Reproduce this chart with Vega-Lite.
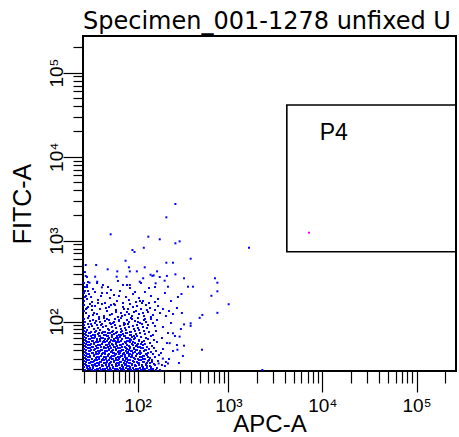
{"$schema":"https://vega.github.io/schema/vega-lite/v6.json","width":373,"height":335,"autosize":{"type":"none"},"padding":{"left":83,"top":36,"right":3,"bottom":66},"background":"white",
"title":{"text":"Specimen_001-1278 unfixed U","anchor":"start","frame":"group","font":"DejaVu Sans","fontSize":24,"fontWeight":"normal","color":"black","baseline":"bottom","offset":1,"dy":23},
"datasets":{
"gates":[{"gate":"P4","x1":4200,"x2":262143,"y1":735,"y2":41200,"lx":9400,"ly":18900}],
"events":[
{"x":7220,"y":1242,"g":"P4"},
{"x":267,"y":2737},{"x":212,"y":1898},{"x":47,"y":1189},{"x":133,"y":1113},{"x":179,"y":1036},{"x":267,"y":928},{"x":297,"y":979},{"x":118,"y":820},{"x":87,"y":770},{"x":92,"y":729},{"x":1661,"y":820},{"x":392,"y":605},{"x":72,"y":572},{"x":212,"y":541},{"x":251,"y":541},{"x":21,"y":508},{"x":30,"y":508},{"x":79,"y":476},{"x":121,"y":476},{"x":43,"y":450},{"x":57,"y":425},{"x":81,"y":425},{"x":98,"y":425},{"x":167,"y":425},{"x":141,"y":387},{"x":153,"y":380},{"x":267,"y":391},{"x":215,"y":374},{"x":21,"y":374},{"x":29,"y":366},{"x":56,"y":366},{"x":74,"y":366},{"x":116,"y":350},{"x":148,"y":374},{"x":179,"y":363},{"x":332,"y":350},{"x":718,"y":350},{"x":762,"y":309},{"x":203,"y":327},{"x":24,"y":309},{"x":31,"y":318},{"x":36,"y":271},{"x":67,"y":290},{"x":81,"y":290},{"x":106,"y":318},{"x":161,"y":304},{"x":221,"y":276},{"x":367,"y":276},{"x":415,"y":276},{"x":762,"y":242},{"x":657,"y":213},{"x":1008,"y":167},{"x":762,"y":130},{"x":311,"y":224},{"x":491,"y":112},{"x":525,"y":122},{"x":392,"y":95},{"x":392,"y":88},{"x":332,"y":92},{"x":520,"y":41},{"x":281,"y":41},{"x":332,"y":47},{"x":297,"y":63},{"x":231,"y":51},{"x":251,"y":70},{"x":194,"y":30},{"x":174,"y":25},{"x":221,"y":25},{"x":2307,"y":19.3},
{"x":22.8,"y":315},{"x":37.2,"y":289.5},{"x":58.1,"y":324.6},{"x":81.3,"y":266},{"x":109.5,"y":306.4},{"x":158.2,"y":273.5},{"x":27,"y":258.5},{"x":47.4,"y":251.2},
{"x":20.4,"y":244.3},{"x":23.6,"y":224},{"x":28.9,"y":237.2},{"x":35,"y":211.6},{"x":42.1,"y":230.5},{"x":51.8,"y":217.9},{"x":61.5,"y":244.3},{"x":72.8,"y":205.6},{"x":88.3,"y":224},{"x":103.8,"y":199.8},{"x":121.7,"y":237.2},{"x":142.5,"y":211.6},{"x":171,"y":194.3},{"x":204.6,"y":230.5},{"x":238.5,"y":183.3},{"x":22,"y":194.3},{"x":26.1,"y":178.1},{"x":31.8,"y":188.7},{"x":39.6,"y":173.1},{"x":46,"y":199.8},{"x":56.5,"y":183.3},{"x":67,"y":173.1},{"x":79.1,"y":188.7},{"x":95.8,"y":178.1},{"x":115.5,"y":183.3},{"x":135.3,"y":173.1},{"x":158.2,"y":178.1},{"x":284.7,"y":205.6},
{"x":19.7,"y":163.3},{"x":22,"y":149.6},{"x":24.4,"y":168.1},{"x":21.2,"y":129.3},{"x":23.6,"y":118.3},{"x":26.1,"y":141.2},{"x":28.9,"y":158.6},{"x":30.8,"y":125.5},{"x":33.9,"y":145.4},{"x":36.1,"y":168.1},{"x":38.4,"y":118.3},{"x":42.1,"y":137.1},{"x":44.7,"y":154.1},{"x":48.8,"y":125.5},{"x":51.8,"y":168.1},{"x":54.9,"y":141.2},{"x":58.1,"y":114.9},{"x":63.3,"y":129.3},{"x":67,"y":154.1},{"x":70.8,"y":121.9},{"x":77,"y":145.4},{"x":81.3,"y":168.1},{"x":85.9,"y":118.3},{"x":90.7,"y":133.2},{"x":98.4,"y":158.6},{"x":103.8,"y":125.5},{"x":109.5,"y":145.4},{"x":118.6,"y":118.3},{"x":125,"y":163.3},{"x":131.7,"y":133.2},{"x":138.9,"y":149.6},{"x":150.1,"y":121.9},{"x":158.2,"y":141.2},{"x":171,"y":158.6},{"x":180,"y":129.3},{"x":194.4,"y":145.4},{"x":209.9,"y":118.3},{"x":226.8,"y":137.1},{"x":251,"y":125.5},{"x":277.6,"y":149.6},{"x":314.6,"y":129.3},{"x":27,"y":121.9},{"x":47.4,"y":163.3},{"x":74.9,"y":133.2},{"x":112.5,"y":173.1},
{"x":19.7,"y":183.3},{"x":21.2,"y":211.6},{"x":20.4,"y":273.5},{"x":22.8,"y":244.3},{"x":19.7,"y":306.4},{"x":22,"y":363.4},{"x":20.4,"y":417},{"x":19.7,"y":137.1},{"x":22.8,"y":154.1},{"x":20.4,"y":205.6},{"x":22,"y":289.5},{"x":19.7,"y":230.5},
{"x":25.3,"y":93.1},{"x":29.9,"y":101.9},{"x":35,"y":90.3},{"x":42.1,"y":108.2},{"x":50.3,"y":96},{"x":59.8,"y":105},{"x":70.8,"y":93.1},{"x":83.6,"y":111.5},{"x":101,"y":98.9},{"x":121.7,"y":108.2},{"x":150.1,"y":96},{"x":28,"y":129.3},{"x":32.9,"y":114.9},{"x":46,"y":121.9},{"x":54.9,"y":133.2},{"x":65.1,"y":118.3},{"x":79.1,"y":125.5},{"x":95.8,"y":137.1},{"x":115.5,"y":129.3},{"x":142.5,"y":114.9},{"x":166.6,"y":105},{"x":21.2,"y":145.4},{"x":26.1,"y":158.6},{"x":31.8,"y":173.1},{"x":40.8,"y":149.6},{"x":53.3,"y":163.3},{"x":68.9,"y":145.4},{"x":88.3,"y":154.1},{"x":106.6,"y":183.3},{"x":128.3,"y":141.2},{"x":25.3,"y":205.6},{"x":36.1,"y":230.5},{"x":59.8,"y":211.6},{"x":93.2,"y":237.2},{"x":22,"y":273.5},{"x":30.8,"y":306.4},{"x":43.4,"y":273.5},{"x":74.9,"y":289.5},{"x":135.3,"y":266},
{"x":204.6,"y":22.7},{"x":226.8,"y":29.6},{"x":251,"y":39.3},{"x":215.4,"y":51.3},{"x":264,"y":64.2},{"x":194.4,"y":85},{"x":238.5,"y":96},{"x":292,"y":25.5},{"x":184.7,"y":36.6},{"x":221,"y":70.6},{"x":277.6,"y":48},{"x":322.6,"y":33},{"x":306.9,"y":79.9},{"x":189.5,"y":60.3},{"x":209.9,"y":26.5},
{"x":20.4,"y":19.3},{"x":22.8,"y":20.1},{"x":26.1,"y":19.3},{"x":28.9,"y":19.3},{"x":31.8,"y":20.1},{"x":35,"y":19.3},{"x":39.6,"y":20.1},{"x":43.4,"y":19.3},{"x":47.4,"y":19.3},{"x":53.3,"y":20.1},{"x":58.1,"y":19.3},{"x":63.3,"y":20.1},{"x":68.9,"y":19.3},{"x":77,"y":20.1},{"x":83.6,"y":19.3},{"x":90.7,"y":19.3},{"x":101,"y":20.1},{"x":109.5,"y":19.3},{"x":121.7,"y":20.1},{"x":135.3,"y":19.3},{"x":150.1,"y":20.1},{"x":162.3,"y":19.3},{"x":180,"y":19.3},
{"x":19.7,"y":21.8},{"x":22,"y":22.7},{"x":24.4,"y":20.9},{"x":27,"y":21.8},{"x":30.8,"y":22.7},{"x":33.9,"y":20.9},{"x":37.2,"y":22.7},{"x":42.1,"y":21.8},{"x":46,"y":20.9},{"x":50.3,"y":21.8},{"x":56.5,"y":22.7},{"x":61.5,"y":20.9},{"x":67,"y":21.8},{"x":74.9,"y":22.7},{"x":81.3,"y":21.8},{"x":88.3,"y":20.9},{"x":95.8,"y":22.7},{"x":106.6,"y":20.9},{"x":115.5,"y":21.8},{"x":128.3,"y":22.7},{"x":142.5,"y":21.8},{"x":166.6,"y":20.9},
{"x":20.4,"y":24.5},{"x":23.6,"y":25.5},{"x":26.1,"y":23.6},{"x":28.9,"y":24.5},{"x":32.9,"y":25.5},{"x":36.1,"y":23.6},{"x":40.8,"y":25.5},{"x":44.7,"y":24.5},{"x":48.8,"y":23.6},{"x":54.9,"y":24.5},{"x":59.8,"y":25.5},{"x":65.1,"y":23.6},{"x":72.8,"y":24.5},{"x":79.1,"y":25.5},{"x":85.9,"y":24.5},{"x":93.2,"y":23.6},{"x":103.8,"y":25.5},{"x":112.5,"y":23.6},{"x":125,"y":24.5},{"x":138.9,"y":25.5},{"x":154.1,"y":24.5},{"x":189.5,"y":23.6},
{"x":19.7,"y":27.5},{"x":22,"y":28.5},{"x":25.3,"y":26.5},{"x":28,"y":27.5},{"x":30.8,"y":28.5},{"x":35,"y":26.5},{"x":38.4,"y":28.5},{"x":42.1,"y":27.5},{"x":47.4,"y":26.5},{"x":51.8,"y":27.5},{"x":58.1,"y":28.5},{"x":63.3,"y":26.5},{"x":70.8,"y":27.5},{"x":77,"y":28.5},{"x":88.3,"y":27.5},{"x":98.4,"y":26.5},{"x":109.5,"y":28.5},{"x":118.6,"y":26.5},{"x":131.7,"y":27.5},{"x":146.3,"y":28.5},{"x":171,"y":27.5},
{"x":20.4,"y":30.7},{"x":22.8,"y":31.8},{"x":26.1,"y":29.6},{"x":29.9,"y":30.7},{"x":32.9,"y":31.8},{"x":37.2,"y":29.6},{"x":40.8,"y":31.8},{"x":46,"y":30.7},{"x":50.3,"y":29.6},{"x":54.9,"y":30.7},{"x":61.5,"y":31.8},{"x":67,"y":29.6},{"x":74.9,"y":30.7},{"x":83.6,"y":31.8},{"x":90.7,"y":30.7},{"x":101,"y":29.6},{"x":112.5,"y":31.8},{"x":121.7,"y":29.6},{"x":138.9,"y":30.7},{"x":158.2,"y":31.8},
{"x":19.7,"y":34.1},{"x":22,"y":35.4},{"x":24.4,"y":33},{"x":28,"y":34.1},{"x":31.8,"y":35.4},{"x":35,"y":33},{"x":39.6,"y":35.4},{"x":43.4,"y":34.1},{"x":48.8,"y":33},{"x":53.3,"y":34.1},{"x":59.8,"y":35.4},{"x":65.1,"y":33},{"x":70.8,"y":34.1},{"x":79.1,"y":35.4},{"x":85.9,"y":34.1},{"x":95.8,"y":33},{"x":106.6,"y":35.4},{"x":115.5,"y":33},{"x":128.3,"y":34.1},{"x":150.1,"y":35.4},{"x":175.4,"y":34.1},
{"x":20.4,"y":37.9},{"x":23.6,"y":39.3},{"x":27,"y":36.6},{"x":29.9,"y":37.9},{"x":33.9,"y":39.3},{"x":37.2,"y":36.6},{"x":42.1,"y":39.3},{"x":47.4,"y":37.9},{"x":51.8,"y":36.6},{"x":58.1,"y":37.9},{"x":63.3,"y":39.3},{"x":68.9,"y":36.6},{"x":77,"y":37.9},{"x":83.6,"y":39.3},{"x":93.2,"y":37.9},{"x":103.8,"y":36.6},{"x":118.6,"y":39.3},{"x":131.7,"y":36.6},{"x":142.5,"y":37.9},{"x":162.3,"y":39.3},
{"x":19.7,"y":42},{"x":22.8,"y":43.5},{"x":25.3,"y":40.6},{"x":28.9,"y":42},{"x":31.8,"y":43.5},{"x":36.1,"y":40.6},{"x":40.8,"y":43.5},{"x":44.7,"y":42},{"x":50.3,"y":40.6},{"x":54.9,"y":42},{"x":61.5,"y":43.5},{"x":67,"y":40.6},{"x":74.9,"y":42},{"x":81.3,"y":43.5},{"x":90.7,"y":42},{"x":98.4,"y":40.6},{"x":109.5,"y":43.5},{"x":125,"y":40.6},{"x":135.3,"y":42},{"x":154.1,"y":43.5},{"x":194.4,"y":42},
{"x":20.4,"y":46.5},{"x":22.8,"y":48},{"x":26.1,"y":44.9},{"x":29.9,"y":46.5},{"x":33.9,"y":48},{"x":38.4,"y":44.9},{"x":42.1,"y":48},{"x":46,"y":46.5},{"x":51.8,"y":44.9},{"x":56.5,"y":46.5},{"x":63.3,"y":48},{"x":70.8,"y":44.9},{"x":79.1,"y":46.5},{"x":88.3,"y":48},{"x":95.8,"y":46.5},{"x":106.6,"y":44.9},{"x":115.5,"y":48},{"x":128.3,"y":44.9},{"x":146.3,"y":46.5},
{"x":19.7,"y":51.3},{"x":22,"y":53},{"x":25.3,"y":49.7},{"x":28,"y":51.3},{"x":31.8,"y":53},{"x":36.1,"y":49.7},{"x":39.6,"y":53},{"x":44.7,"y":51.3},{"x":48.8,"y":49.7},{"x":54.9,"y":51.3},{"x":59.8,"y":53},{"x":67,"y":49.7},{"x":72.8,"y":51.3},{"x":81.3,"y":53},{"x":93.2,"y":51.3},{"x":101,"y":49.7},{"x":112.5,"y":53},{"x":121.7,"y":49.7},{"x":138.9,"y":51.3},{"x":166.6,"y":53},
{"x":20.4,"y":56.6},{"x":23.6,"y":58.4},{"x":27,"y":54.8},{"x":30.8,"y":56.6},{"x":33.9,"y":58.4},{"x":38.4,"y":54.8},{"x":43.4,"y":58.4},{"x":47.4,"y":56.6},{"x":53.3,"y":54.8},{"x":58.1,"y":56.6},{"x":65.1,"y":58.4},{"x":74.9,"y":54.8},{"x":83.6,"y":56.6},{"x":90.7,"y":58.4},{"x":103.8,"y":56.6},{"x":118.6,"y":54.8},{"x":131.7,"y":58.4},{"x":154.1,"y":56.6},
{"x":19.7,"y":62.2},{"x":22.8,"y":64.2},{"x":26.1,"y":60.3},{"x":28.9,"y":62.2},{"x":32.9,"y":64.2},{"x":37.2,"y":60.3},{"x":42.1,"y":64.2},{"x":48.8,"y":62.2},{"x":54.9,"y":60.3},{"x":61.5,"y":62.2},{"x":68.9,"y":64.2},{"x":77,"y":60.3},{"x":85.9,"y":62.2},{"x":98.4,"y":64.2},{"x":109.5,"y":62.2},{"x":125,"y":60.3},{"x":142.5,"y":64.2},
{"x":20.4,"y":68.4},{"x":23.6,"y":70.6},{"x":27,"y":66.3},{"x":31.8,"y":68.4},{"x":36.1,"y":70.6},{"x":40.8,"y":66.3},{"x":46,"y":70.6},{"x":51.8,"y":68.4},{"x":59.8,"y":66.3},{"x":67,"y":68.4},{"x":74.9,"y":70.6},{"x":83.6,"y":66.3},{"x":95.8,"y":68.4},{"x":106.6,"y":70.6},{"x":121.7,"y":68.4},{"x":150.1,"y":66.3},
{"x":19.7,"y":75.1},{"x":22,"y":77.5},{"x":25.3,"y":72.8},{"x":29.9,"y":75.1},{"x":33.9,"y":77.5},{"x":39.6,"y":72.8},{"x":44.7,"y":77.5},{"x":50.3,"y":75.1},{"x":56.5,"y":72.8},{"x":65.1,"y":75.1},{"x":72.8,"y":77.5},{"x":81.3,"y":72.8},{"x":93.2,"y":75.1},{"x":103.8,"y":77.5},{"x":118.6,"y":75.1},{"x":135.3,"y":72.8},{"x":162.3,"y":75.1},
{"x":20.4,"y":82.4},{"x":23.6,"y":85},{"x":28,"y":79.9},{"x":31.8,"y":82.4},{"x":37.2,"y":85},{"x":43.4,"y":79.9},{"x":48.8,"y":85},{"x":54.9,"y":82.4},{"x":63.3,"y":79.9},{"x":70.8,"y":82.4},{"x":79.1,"y":85},{"x":90.7,"y":79.9},{"x":101,"y":82.4},{"x":115.5,"y":85},{"x":128.3,"y":82.4},
{"x":19.7,"y":90.3},{"x":22.8,"y":93.1},{"x":26.1,"y":87.6},{"x":30.8,"y":90.3},{"x":36.1,"y":93.1},{"x":40.8,"y":87.6},{"x":47.4,"y":93.1},{"x":53.3,"y":90.3},{"x":61.5,"y":87.6},{"x":68.9,"y":90.3},{"x":77,"y":93.1},{"x":88.3,"y":87.6},{"x":98.4,"y":90.3},{"x":112.5,"y":93.1},{"x":131.7,"y":90.3},{"x":158.2,"y":87.6},
{"x":20.4,"y":98.9},{"x":24.4,"y":101.9},{"x":28.9,"y":96},{"x":33.9,"y":98.9},{"x":39.6,"y":101.9},{"x":46,"y":96},{"x":51.8,"y":98.9},{"x":59.8,"y":101.9},{"x":68.9,"y":96},{"x":79.1,"y":98.9},{"x":93.2,"y":101.9},{"x":106.6,"y":96},{"x":125,"y":98.9},
{"x":19.7,"y":108.2},{"x":22.8,"y":111.5},{"x":27,"y":105},{"x":32.9,"y":108.2},{"x":38.4,"y":111.5},{"x":44.7,"y":105},{"x":53.3,"y":108.2},{"x":63.3,"y":111.5},{"x":74.9,"y":105},{"x":85.9,"y":108.2},{"x":101,"y":111.5},{"x":118.6,"y":105},{"x":142.5,"y":108.2},
{"x":22,"y":20.9},{"x":24.4,"y":20.1},{"x":27,"y":20.9},{"x":30.8,"y":20.1},{"x":33.9,"y":20.9},{"x":37.2,"y":20.1},{"x":42.1,"y":20.9},{"x":46,"y":20.1},{"x":50.3,"y":20.9},{"x":56.5,"y":20.1},{"x":61.5,"y":20.9},{"x":67,"y":20.1},{"x":72.8,"y":20.9},{"x":81.3,"y":20.1},{"x":88.3,"y":20.9},{"x":95.8,"y":20.1},{"x":106.6,"y":20.9},{"x":115.5,"y":20.1},{"x":128.3,"y":20.9},{"x":142.5,"y":20.1},
{"x":21.2,"y":23.6},{"x":23.6,"y":22.7},{"x":28,"y":23.6},{"x":29.9,"y":22.7},{"x":32.9,"y":23.6},{"x":36.1,"y":22.7},{"x":40.8,"y":23.6},{"x":44.7,"y":22.7},{"x":48.8,"y":23.6},{"x":54.9,"y":22.7},{"x":59.8,"y":23.6},{"x":65.1,"y":22.7},{"x":70.8,"y":23.6},{"x":79.1,"y":22.7},{"x":85.9,"y":23.6},{"x":93.2,"y":22.7},{"x":103.8,"y":23.6},{"x":112.5,"y":22.7},{"x":125,"y":23.6},{"x":138.9,"y":22.7},{"x":158.2,"y":23.6},
{"x":21.2,"y":26.5},{"x":24.4,"y":25.5},{"x":27,"y":26.5},{"x":30.8,"y":25.5},{"x":33.9,"y":26.5},{"x":38.4,"y":25.5},{"x":42.1,"y":26.5},{"x":46,"y":25.5},{"x":51.8,"y":26.5},{"x":56.5,"y":25.5},{"x":61.5,"y":26.5},{"x":68.9,"y":25.5},{"x":74.9,"y":26.5},{"x":81.3,"y":25.5},{"x":90.7,"y":26.5},{"x":101,"y":25.5},{"x":115.5,"y":26.5},{"x":128.3,"y":25.5},{"x":146.3,"y":26.5},
{"x":21.2,"y":29.6},{"x":23.6,"y":28.5},{"x":26.1,"y":29.6},{"x":28.9,"y":28.5},{"x":32.9,"y":29.6},{"x":36.1,"y":28.5},{"x":40.8,"y":29.6},{"x":44.7,"y":28.5},{"x":48.8,"y":29.6},{"x":54.9,"y":28.5},{"x":59.8,"y":29.6},{"x":67,"y":28.5},{"x":72.8,"y":29.6},{"x":81.3,"y":28.5},{"x":93.2,"y":29.6},{"x":103.8,"y":28.5},{"x":115.5,"y":29.6},{"x":135.3,"y":28.5},
{"x":21.2,"y":33},{"x":24.4,"y":31.8},{"x":28,"y":33},{"x":30.8,"y":31.8},{"x":35,"y":33},{"x":38.4,"y":31.8},{"x":43.4,"y":33},{"x":47.4,"y":31.8},{"x":51.8,"y":33},{"x":58.1,"y":31.8},{"x":63.3,"y":33},{"x":70.8,"y":31.8},{"x":79.1,"y":33},{"x":85.9,"y":31.8},{"x":95.8,"y":33},{"x":106.6,"y":31.8},{"x":118.6,"y":33},{"x":131.7,"y":31.8},
{"x":21.2,"y":36.6},{"x":23.6,"y":35.4},{"x":26.1,"y":36.6},{"x":29.9,"y":35.4},{"x":32.9,"y":36.6},{"x":36.1,"y":35.4},{"x":39.6,"y":36.6},{"x":44.7,"y":35.4},{"x":50.3,"y":36.6},{"x":54.9,"y":35.4},{"x":61.5,"y":36.6},{"x":67,"y":35.4},{"x":74.9,"y":36.6},{"x":81.3,"y":35.4},{"x":88.3,"y":36.6},{"x":98.4,"y":35.4},{"x":109.5,"y":36.6},{"x":125,"y":35.4},
{"x":21.2,"y":40.6},{"x":24.4,"y":39.3},{"x":28,"y":40.6},{"x":31.8,"y":39.3},{"x":35,"y":40.6},{"x":39.6,"y":39.3},{"x":44.7,"y":40.6},{"x":48.8,"y":39.3},{"x":54.9,"y":40.6},{"x":59.8,"y":39.3},{"x":65.1,"y":40.6},{"x":72.8,"y":39.3},{"x":79.1,"y":40.6},{"x":85.9,"y":39.3},{"x":95.8,"y":40.6},{"x":106.6,"y":39.3},{"x":121.7,"y":40.6},
{"x":21.2,"y":44.9},{"x":24.4,"y":43.5},{"x":27,"y":44.9},{"x":30.8,"y":43.5},{"x":35,"y":44.9},{"x":38.4,"y":43.5},{"x":43.4,"y":44.9},{"x":47.4,"y":43.5},{"x":53.3,"y":44.9},{"x":58.1,"y":43.5},{"x":65.1,"y":44.9},{"x":72.8,"y":43.5},{"x":81.3,"y":44.9},{"x":90.7,"y":43.5},{"x":101,"y":44.9},{"x":115.5,"y":43.5},
{"x":21.2,"y":49.7},{"x":24.4,"y":48},{"x":28,"y":49.7},{"x":31.8,"y":48},{"x":36.1,"y":49.7},{"x":40.8,"y":48},{"x":44.7,"y":49.7},{"x":50.3,"y":48},{"x":54.9,"y":49.7},{"x":61.5,"y":48},{"x":67,"y":49.7},{"x":74.9,"y":48},{"x":85.9,"y":49.7},{"x":98.4,"y":48},{"x":109.5,"y":49.7},
{"x":21.2,"y":54.8},{"x":23.6,"y":53},{"x":26.1,"y":54.8},{"x":29.9,"y":53},{"x":33.9,"y":54.8},{"x":37.2,"y":53},{"x":42.1,"y":54.8},{"x":46,"y":53},{"x":50.3,"y":54.8},{"x":56.5,"y":53},{"x":63.3,"y":54.8},{"x":70.8,"y":53},{"x":79.1,"y":54.8},{"x":88.3,"y":53},{"x":103.8,"y":54.8},
{"x":21.2,"y":60.3},{"x":24.4,"y":58.4},{"x":28,"y":60.3},{"x":30.8,"y":58.4},{"x":35,"y":60.3},{"x":39.6,"y":58.4},{"x":44.7,"y":60.3},{"x":51.8,"y":58.4},{"x":58.1,"y":60.3},{"x":65.1,"y":58.4},{"x":72.8,"y":60.3},{"x":81.3,"y":58.4},{"x":93.2,"y":60.3},
{"x":21.2,"y":66.3},{"x":25.3,"y":64.2},{"x":28.9,"y":66.3},{"x":33.9,"y":64.2},{"x":38.4,"y":66.3},{"x":43.4,"y":64.2},{"x":48.8,"y":66.3},{"x":56.5,"y":64.2},{"x":63.3,"y":66.3},{"x":70.8,"y":64.2},{"x":81.3,"y":66.3},{"x":90.7,"y":64.2},
{"x":21.2,"y":72.8},{"x":24.4,"y":70.6},{"x":28.9,"y":72.8},{"x":32.9,"y":70.6},{"x":37.2,"y":72.8},{"x":43.4,"y":70.6},{"x":48.8,"y":72.8},{"x":54.9,"y":70.6},{"x":63.3,"y":72.8},{"x":72.8,"y":70.6},{"x":83.6,"y":72.8}
]},
"layer":[
{"data":{"name":"events"},"mark":{"type":"square","size":4,"opacity":1,"strokeWidth":0,"clip":true},
"encoding":{
"x":{"field":"x","type":"quantitative","title":"APC-A","scale":{"type":"symlog","constant":10,"domain":[19,262143],"nice":false,"zero":false},
"axis":{"values":[20,30,40,50,60,70,80,90,100,200,300,400,500,600,700,800,900,1000,2000,3000,4000,5000,6000,7000,8000,9000,10000,20000,30000,40000,50000,60000,70000,80000,90000,100000,200000],"tickCount":200,
"labelExpr":"datum.value == 100 ? '10²' : datum.value == 1000 ? '10³' : datum.value == 10000 ? '10⁴' : datum.value == 100000 ? '10⁵' : ''",
"tickSize":{"condition":{"test":"datum.value == 100 || datum.value == 1000 || datum.value == 10000 || datum.value == 100000","value":21},"value":12},
"tickColor":"black","tickWidth":1.2,"domain":false,"grid":false,"labelOverlap":false,"labelFlush":false,"labelBound":false,
"labelFont":"Liberation Sans","labelFontSize":19,"labelColor":"black","labelBaseline":"alphabetic","labelPadding":19,
"titleFont":"Liberation Sans","titleFontSize":24,"titleFontWeight":"normal","titleColor":"black","titleBaseline":"alphabetic","titleY":60,"titleX":186.5,"titleAlign":"center"}},
"y":{"field":"y","type":"quantitative","title":"FITC-A","scale":{"type":"symlog","constant":10,"domain":[18.5,272000],"nice":false,"zero":false},
"axis":{"values":[20,30,40,50,60,70,80,90,100,200,300,400,500,600,700,800,900,1000,2000,3000,4000,5000,6000,7000,8000,9000,10000,20000,30000,40000,50000,60000,70000,80000,90000,100000,200000],"tickCount":200,
"labelExpr":"datum.value == 100 ? '10²' : datum.value == 1000 ? '10³' : datum.value == 10000 ? '10⁴' : datum.value == 100000 ? '10⁵' : ''",
"tickSize":{"condition":{"test":"datum.value == 100 || datum.value == 1000 || datum.value == 10000 || datum.value == 100000","value":20},"value":10},
"tickColor":"black","tickWidth":1.2,"domain":false,"grid":false,"labelOverlap":false,"labelFlush":false,"labelBound":false,
"labelFont":"Liberation Sans","labelFontSize":19,"labelColor":"black","labelAngle":-90,"labelAlign":"center","labelBaseline":"alphabetic","labelPadding":1,
"titleFont":"Liberation Sans","titleFontSize":25,"titleFontWeight":"normal","titleColor":"black","titleAngle":-90,"titleBaseline":"alphabetic","titleAlign":"center","titleX":-53,"titleY":167.5}},
"color":{"condition":{"test":"datum.g === 'P4'","value":"#ff00ff"},"value":"#0000ff"}}},
{"data":{"name":"gates"},"mark":{"type":"rect","filled":false,"stroke":"black","strokeWidth":1.6,"clip":true},
"encoding":{"x":{"field":"x1","type":"quantitative","title":"APC-A"},"x2":{"field":"x2"},"y":{"field":"y1","type":"quantitative","title":"FITC-A"},"y2":{"field":"y2"}}},
{"data":{"name":"gates"},"mark":{"type":"text","align":"left","baseline":"middle","font":"Liberation Sans","fontSize":23,"color":"black"},
"encoding":{"x":{"field":"lx","type":"quantitative","title":"APC-A"},"y":{"field":"ly","type":"quantitative","title":"FITC-A"},"text":{"field":"gate"}}}
],
"config":{"view":{"stroke":"black","strokeWidth":2}}}
